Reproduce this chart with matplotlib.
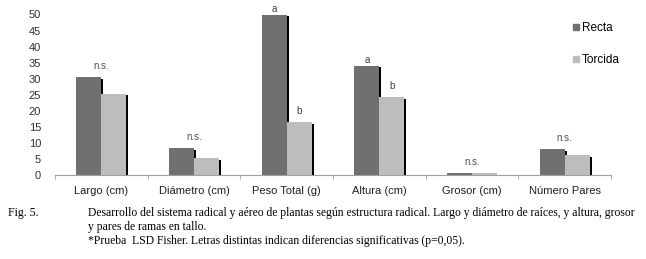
import numpy as np
import matplotlib.pyplot as plt
from matplotlib.lines import Line2D

plt.rcParams['font.family'] = ['Liberation Sans', 'DejaVu Sans']

categorias = ['Largo (cm)', 'Diámetro (cm)', 'Peso Total (g)', 'Altura (cm)', 'Grosor (cm)', 'Número Pares']
recta = [30.4, 8.3, 50.0, 34.0, 0.6, 8.0]
torcida = [25.3, 5.2, 16.4, 24.2, 0.5, 6.1]
letras_recta = ['n.s.', 'n.s.', 'a', 'a', 'n.s.', 'n.s.']
letras_torcida = ['', '', 'b', 'b', '', '']

c_recta = '#707070'
c_torcida = '#bdbdbd'

fig = plt.figure(figsize=(6.46, 2.59), dpi=100)
ax = fig.add_axes([55/646, 84/259, 556/646, 160.5/259])

x = np.arange(len(categorias))
w = 0.27
dx = 0.022  # sombra

# sombras negras detrás de cada barra
ax.bar(x - w/2 + dx, np.array(recta) - 0.4, w, color='black', zorder=1)
ax.bar(x - w/2, recta, w, color=c_recta, zorder=2)
ax.bar(x + w/2 + dx, np.array(torcida) - 0.4, w, color='black', zorder=3)
ax.bar(x + w/2, torcida, w, color=c_torcida, zorder=4)

# letras de significancia
for i in range(len(categorias)):
    if letras_recta[i] == 'n.s.':
        top = max(recta[i], torcida[i])
        ax.text(x[i], top + 2.0, 'n.s.', ha='center', va='bottom', fontsize=7, color='#505050')
    else:
        ax.text(x[i] - w/2, recta[i] + 0.3, letras_recta[i], ha='center', va='bottom', fontsize=7, color='#404040')
        ax.text(x[i] + w/2, torcida[i] + 2.0, letras_torcida[i], ha='center', va='bottom', fontsize=7, color='#404040')

ax.set_xlim(-0.5, len(categorias) - 0.5)
ax.set_ylim(0, 50)
ax.set_yticks(range(0, 51, 5))
ax.set_xticks(x)
ax.set_xticklabels(categorias)
ax.set_xticks(np.arange(-0.5, len(categorias), 1), minor=True)
ax.tick_params(axis='x', which='major', length=0, labelsize=8, pad=8, labelcolor='#202020')
ax.tick_params(axis='x', which='minor', length=3, color='#a0a0a0', direction='out')
ax.tick_params(axis='y', length=0, labelsize=8, pad=10, labelcolor='#303030')
for s in ['top', 'right', 'left']:
    ax.spines[s].set_visible(False)
ax.spines['bottom'].set_color('#a0a0a0')

handles = [Line2D([], [], marker='s', linestyle='', color=c_recta, markersize=4),
           Line2D([], [], marker='s', linestyle='', color=c_torcida, markersize=4)]
fig.legend(handles, ['Recta', 'Torcida'], loc='upper left', bbox_to_anchor=(568/646, 1 - 17/259),
           frameon=False, fontsize=8.5, handlelength=0.6, handletextpad=0.2, labelspacing=1.7,
           borderaxespad=0)

# pie de figura
serif = ['Liberation Serif', 'DejaVu Serif']
fig.text(8/646, 1 - 213/259, 'Fig. 5.', family=serif, fontsize=8.5, va='center')
fig.text(88/646, 1 - 213/259,
         'Desarrollo del sistema radical y aéreo de plantas según estructura radical. Largo y diámetro de raíces, y altura, grosor',
         family=serif, fontsize=8.4, va='center')
fig.text(88/646, 1 - 227/259, 'y pares de ramas en tallo.', family=serif, fontsize=8.4, va='center')
fig.text(88/646, 1 - 241/259,
         '*Prueba  LSD Fisher. Letras distintas indican diferencias significativas (p=0,05).',
         family=serif, fontsize=8.4, va='center')

fig.savefig('out.png', dpi=100)
